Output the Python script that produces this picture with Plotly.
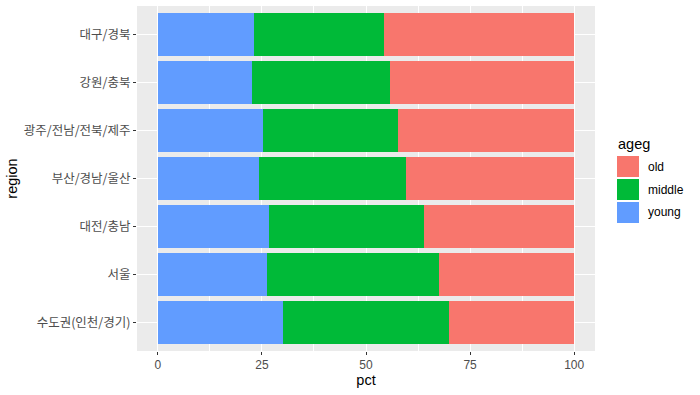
import plotly.graph_objects as go

regions = ["수도권(인천/경기)", "서울", "대전/충남", "부산/경남/울산",
           "광주/전남/전북/제주", "강원/충북", "대구/경북"]
young = [30.1, 26.2, 26.7, 24.3, 25.3, 22.6, 23.1]
middle = [39.9, 41.4, 37.3, 35.4, 32.4, 33.2, 31.3]
old = [30.0, 32.4, 36.0, 40.3, 42.3, 44.2, 45.6]
x_ticks = [0, 25, 50, 75, 100]
groups = ["young", "middle", "old"]
colors = {"old": "#F8766D", "middle": "#00BA38", "young": "#619CFF"}
values = {"young": young, "middle": middle, "old": old}

W, H = 700, 395
L, R, T, B = 137, 105, 6, 44
pw, ph = W - L - R, H - T - B

def px_x(p):
    return (p - L) / pw

def px_y(p):
    return (H - B - p) / ph

fig = go.Figure()
for g in groups:
    fig.add_trace(go.Bar(y=regions, x=values[g], orientation="h", name=g,
                         marker=dict(color=colors[g], line=dict(width=0)),
                         showlegend=False))

font_latin = "Liberation Sans, Arial, sans-serif"
font_kr = "Noto Sans CJK KR, Liberation Sans, sans-serif"
fig.update_layout(
    width=W, height=H, barmode="stack", bargap=0.1,
    margin=dict(l=L, r=R, t=T, b=B, autoexpand=False),
    paper_bgcolor="white", plot_bgcolor="#EBEBEB",
    font=dict(family=font_latin, color="#4D4D4D", size=12),
    xaxis=dict(range=[-5, 105], tickvals=x_ticks, ticktext=[str(v) for v in x_ticks],
               showgrid=True, gridcolor="white", gridwidth=1.1, zeroline=False,
               ticks="outside", ticklen=3, tickcolor="#333333", tickwidth=1,
               tickfont=dict(size=12, color="#4D4D4D", family=font_latin),
               minor=dict(tickvals=[12.5, 37.5, 62.5, 87.5], showgrid=True,
                          gridcolor="white", gridwidth=0.5, ticks=""),
               title=dict(text="pct", font=dict(size=14.5, color="black", family=font_latin),
                          standoff=3),
               showline=False),
    yaxis=dict(categoryorder="array", categoryarray=regions, range=[-0.6, 6.6],
               showgrid=True, gridcolor="white", gridwidth=1.1, zeroline=False,
               ticks="outside", ticklen=3, tickcolor="#333333", tickwidth=1,
               tickfont=dict(size=12.5, color="#4D4D4D", family=font_kr),
               title=dict(text="region", font=dict(size=14.5, color="black", family=font_latin),
                          standoff=2),
               showline=False),
)

# legend (ggplot-style)
fig.add_annotation(x=px_x(616), y=px_y(144), xref="paper", yref="paper",
                   text="ageg", showarrow=False, xanchor="left", yanchor="middle",
                   font=dict(size=14.5, color="black", family=font_latin))
key_tops = [156, 179, 202]
for g, top in zip(["old", "middle", "young"], key_tops):
    fig.add_shape(type="rect", xref="paper", yref="paper",
                  x0=px_x(617), x1=px_x(639), y0=px_y(top), y1=px_y(top + 21),
                  fillcolor=colors[g], line=dict(width=0))
    fig.add_annotation(x=px_x(646), y=px_y(top + 10.5), xref="paper", yref="paper",
                       text=g, showarrow=False, xanchor="left", yanchor="middle",
                       font=dict(size=12, color="black", family=font_latin))

fig.write_html("out.html", config={"displayModeBar": False},
               post_script="document.body.style.margin='0';document.body.style.padding='0';")
